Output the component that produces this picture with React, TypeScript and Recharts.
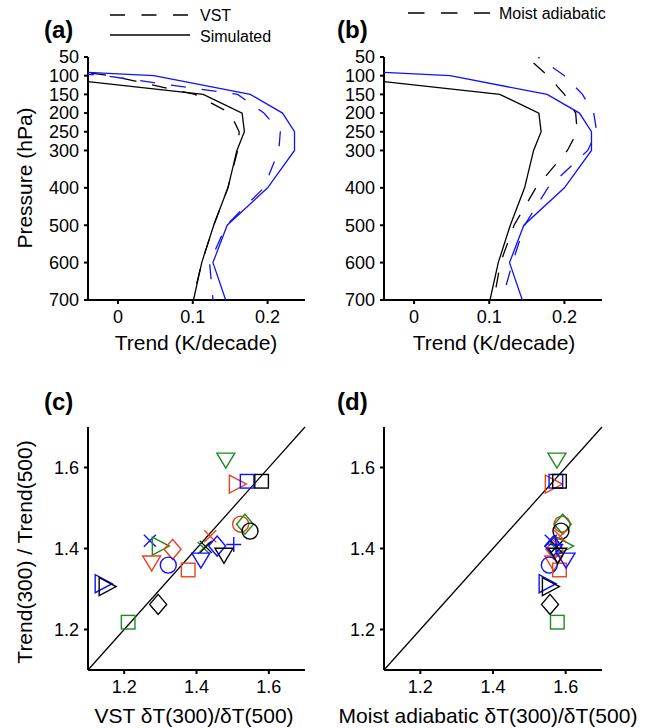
import React from 'react';
import { ScatterChart, Scatter, XAxis, YAxis, ReferenceLine } from 'recharts';

// ---------- Data: vertical profiles (panels a, b) ----------
const pressureLevels = [50, 100, 150, 200, 250, 300, 400, 500, 600, 700];
const simulatedBlack = [-0.6, -0.11, 0.114, 0.166, 0.169, 0.159, 0.147, 0.128, 0.112, 0.101];
const simulatedBlue = [-0.44, 0.048, 0.177, 0.22, 0.236, 0.236, 0.2, 0.146, 0.127, 0.144];
const vstBlack = [-0.2, -0.01, 0.103, 0.15, 0.162, 0.16, 0.147, 0.128, 0.112, 0.1];
const vstBlue = [-0.3, -0.018, 0.16, 0.195, 0.217, 0.215, 0.195, 0.145, 0.1225, 0.127];
const moistBlack = [0.15, 0.178, 0.2, 0.215, 0.217, 0.204, 0.162, 0.133, 0.115, 0.106];
const moistBlue = [0.165, 0.2, 0.224, 0.239, 0.243, 0.231, 0.178, 0.147, 0.131, 0.117];
const trendTicks = [0, 0.1, 0.2];

// ---------- Data: scatter (panels c, d) ----------
const ratioTicks = [1.2, 1.4, 1.6];
const markerShapes = [
  'triDown', 'triRight', 'square', 'square', 'circle', 'diamond', 'circle', 'cross',
  'triRight', 'diamond', 'triDown', 'circle', 'square', 'cross', 'cross', 'cross',
  'diamond', 'plus', 'triDown', 'triDown', 'triRight', 'triRight', 'diamond', 'square',
];
const markerColors = [
  'green', 'red', 'blue', 'black', 'red', 'green', 'black', 'blue',
  'green', 'red', 'red', 'blue', 'red', 'red', 'green', 'black',
  'blue', 'blue', 'blue', 'black', 'blue', 'black', 'black', 'green',
];
const trendRatio = [
  1.617, 1.559, 1.566, 1.566, 1.46, 1.46, 1.443, 1.419,
  1.406, 1.398, 1.363, 1.359, 1.347, 1.43, 1.401, 1.404,
  1.406, 1.41, 1.37, 1.382, 1.313, 1.306, 1.262, 1.218,
];
const vstRatio = [
  1.481, 1.513, 1.54, 1.58, 1.522, 1.534, 1.548, 1.271,
  1.3, 1.334, 1.276, 1.322, 1.377, 1.438, 1.42, 1.426,
  1.457, 1.503, 1.412, 1.476, 1.142, 1.153, 1.294, 1.211,
];
const moistRatio = [
  1.576, 1.566, 1.573, 1.583, 1.59, 1.592, 1.587, 1.559,
  1.597, 1.569, 1.567, 1.555, 1.583, 1.585, 1.572, 1.575,
  1.566, 1.573, 1.601, 1.578, 1.549, 1.558, 1.557, 1.577,
];

const COLORS: Record<string, string> = {
  black: '#000000',
  blue: '#1010ff',
  red: '#e4461c',
  green: '#1c8c1c',
};
const FONT = '"Liberation Sans", Arial, Helvetica, sans-serif';

const profile = (vals: number[]) => vals.map((x, i) => ({ x, p: pressureLevels[i] }));
const scatterData = (xs: number[]) =>
  xs.map((x, i) => ({ x, y: trendRatio[i], shape: markerShapes[i], color: COLORS[markerColors[i]] }));

const noShape = () => <g />;

function Marker(props: any) {
  const { cx, cy, payload } = props;
  if (cx == null || cy == null) return <g />;
  const c = payload.color;
  const common = { fill: 'none', stroke: c, strokeWidth: 1.4 };
  switch (payload.shape) {
    case 'square':
      return <rect x={cx - 6.8} y={cy - 6.8} width={13.6} height={13.6} {...common} />;
    case 'circle':
      return <circle cx={cx} cy={cy} r={8} {...common} />;
    case 'triDown':
      return <polygon points={`${cx - 9},${cy - 7.5} ${cx + 9},${cy - 7.5} ${cx},${cy + 7.5}`} {...common} />;
    case 'triRight':
      return <polygon points={`${cx - 8},${cy - 9} ${cx - 8},${cy + 9} ${cx + 9},${cy}`} {...common} />;
    case 'diamond':
      return <polygon points={`${cx},${cy - 10} ${cx + 8.5},${cy} ${cx},${cy + 10} ${cx - 8.5},${cy}`} {...common} />;
    case 'cross':
      return (
        <path d={`M${cx - 6},${cy - 6}L${cx + 6},${cy + 6}M${cx - 6},${cy + 6}L${cx + 6},${cy - 6}`} {...common} />
      );
    case 'plus':
      return <path d={`M${cx - 7.5},${cy}L${cx + 7.5},${cy}M${cx},${cy - 7.5}L${cx},${cy + 7.5}`} {...common} />;
    default:
      return <g />;
  }
}

const axisLine = { stroke: '#000', strokeWidth: 2 };
const tickLine = { stroke: '#000', strokeWidth: 2 };
const tickStyle = { fill: '#000', fontSize: 18, fontFamily: FONT };
const fmtTrend = (v: number) => (v === 0 ? '0' : v.toFixed(1));
const fmtRatio = (v: number) => v.toFixed(1);

type Series = { data: { x: number; p: number }[]; color: string; dash?: string; offset?: number };

function ProfilePanel({ left, width, marginLeft, marginRight, series }: any) {
  return (
    <div style={{ position: 'absolute', left, top: 0 }}>
      <ScatterChart width={width} height={370} margin={{ top: 57, right: marginRight, bottom: 30, left: marginLeft }}>
        <XAxis
          type="number"
          dataKey="x"
          domain={[-0.04, 0.25]}
          ticks={trendTicks}
          allowDataOverflow
          tickFormatter={fmtTrend}
          height={40}
          tick={tickStyle}
          tickSize={4}
          tickMargin={6}
          axisLine={axisLine}
          tickLine={tickLine}
        />
        <YAxis
          type="number"
          dataKey="p"
          domain={[50, 700]}
          reversed
          ticks={pressureLevels}
          interval={0}
          allowDataOverflow
          width={60}
          tick={tickStyle}
          tickSize={4}
          tickMargin={5}
          axisLine={axisLine}
          tickLine={tickLine}
        />
        {(series as Series[]).map((s, i) => (
          <Scatter
            key={i}
            data={s.data}
            line={{ stroke: s.color, strokeWidth: 1.3, strokeDasharray: s.dash, strokeDashoffset: s.offset || 0 }}
            shape={noShape}
            isAnimationActive={false}
          />
        ))}
      </ScatterChart>
    </div>
  );
}

function RatioPanel({ left, width, marginLeft, marginRight, data }: any) {
  return (
    <div style={{ position: 'absolute', left, top: 380 }}>
      <ScatterChart width={width} height={348} margin={{ top: 47, right: marginRight, bottom: 18, left: marginLeft }}>
        <XAxis
          type="number"
          dataKey="x"
          domain={[1.1, 1.7]}
          ticks={ratioTicks}
          allowDataOverflow
          tickFormatter={fmtRatio}
          height={40}
          tick={tickStyle}
          tickSize={4}
          tickMargin={6}
          axisLine={axisLine}
          tickLine={tickLine}
        />
        <YAxis
          type="number"
          dataKey="y"
          domain={[1.1, 1.7]}
          ticks={ratioTicks}
          allowDataOverflow
          tickFormatter={fmtRatio}
          width={60}
          tick={tickStyle}
          tickSize={4}
          tickMargin={5}
          axisLine={axisLine}
          tickLine={tickLine}
        />
        <ReferenceLine
          segment={[{ x: 1.1, y: 1.1 }, { x: 1.7, y: 1.7 }]}
          stroke="#000"
          strokeWidth={1.3}
        />
        <Scatter data={data} shape={(p: any) => <Marker {...p} />} isAnimationActive={false} />
      </ScatterChart>
    </div>
  );
}

export default function App() {
  const DASH = '15 16';
  const panelA: Series[] = [
    { data: profile(simulatedBlack), color: COLORS.black },
    { data: profile(vstBlack), color: COLORS.black, dash: DASH },
    { data: profile(simulatedBlue), color: COLORS.blue },
    { data: profile(vstBlue), color: COLORS.blue, dash: DASH },
  ];
  const panelB: Series[] = [
    { data: profile(simulatedBlack), color: COLORS.black },
    { data: profile(moistBlack), color: COLORS.black, dash: DASH, offset: 22 },
    { data: profile(simulatedBlue), color: COLORS.blue },
    { data: profile(moistBlue), color: COLORS.blue, dash: DASH, offset: 13 },
  ];
  const txt = { fontFamily: FONT, fill: '#000' } as const;
  return (
    <div style={{ position: 'absolute', left: 0, top: 0, width: 651, height: 728, background: '#fff', fontFamily: FONT }}>
      <ProfilePanel left={0} width={320} marginLeft={28} marginRight={15} series={panelA} />
      <ProfilePanel left={320} width={300} marginLeft={4} marginRight={18} series={panelB} />
      <RatioPanel left={0} width={320} marginLeft={28} marginRight={15} data={scatterData(vstRatio)} />
      <RatioPanel left={320} width={300} marginLeft={4} marginRight={18} data={scatterData(moistRatio)} />
      <svg
        width={651}
        height={728}
        style={{ position: 'absolute', left: 0, top: 0, pointerEvents: 'none' }}
      >
        {/* panel labels */}
        <text x={44} y={37.5} fontSize={24} fontWeight="bold" {...txt}>(a)</text>
        <text x={337} y={37.5} fontSize={24} fontWeight="bold" {...txt}>(b)</text>
        <text x={44} y={410} fontSize={24} fontWeight="bold" {...txt}>(c)</text>
        <text x={337} y={410} fontSize={24} fontWeight="bold" {...txt}>(d)</text>
        {/* legends */}
        <line x1={110} y1={15} x2={190} y2={15} stroke="#000" strokeWidth={1.3} strokeDasharray="15 16.5" />
        <text x={200} y={21} fontSize={16} {...txt}>VST</text>
        <line x1={110} y1={35} x2={190} y2={35} stroke="#000" strokeWidth={1.3} />
        <text x={200} y={42} fontSize={16} {...txt}>Simulated</text>
        <line x1={408} y1={13} x2={490} y2={13} stroke="#000" strokeWidth={1.3} strokeDasharray="16.5 16.5" />
        <text x={499} y={19} fontSize={16} {...txt}>Moist adiabatic</text>
        {/* axis titles */}
        <text x={196} y={350} fontSize={21} textAnchor="middle" {...txt}>Trend (K/decade)</text>
        <text x={494} y={350} fontSize={21} textAnchor="middle" {...txt}>Trend (K/decade)</text>
        <text x={32} y={178} fontSize={21} textAnchor="middle" transform="rotate(-90 32 178)" {...txt}>Pressure (hPa)</text>
        <text x={32} y={552} fontSize={21} textAnchor="middle" transform="rotate(-90 32 552)" {...txt}>Trend(300) / Trend(500)</text>
        <text x={194} y={723} fontSize={21} textAnchor="middle" {...txt}>VST δT(300)/δT(500)</text>
        <text x={488} y={723} fontSize={21} textAnchor="middle" {...txt}>Moist adiabatic δT(300)/δT(500)</text>
      </svg>
    </div>
  );
}
